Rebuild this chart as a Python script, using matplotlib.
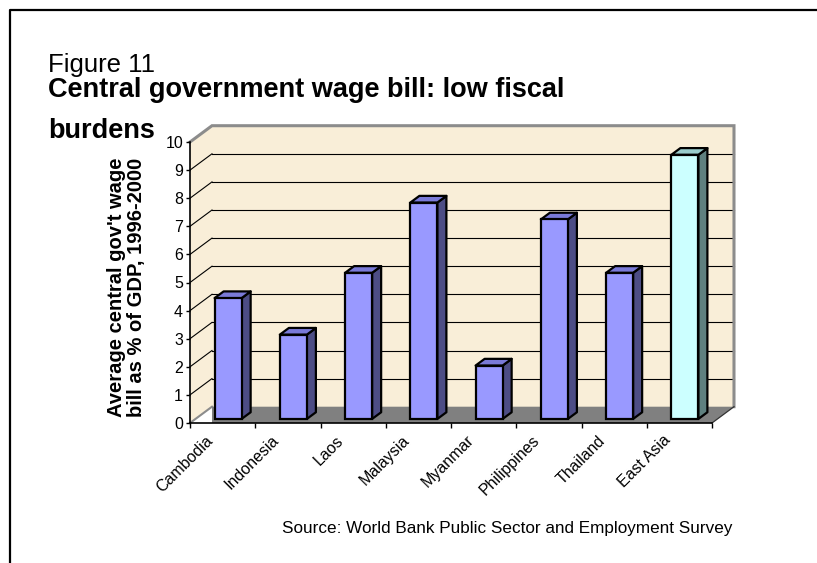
import matplotlib.pyplot as plt
from matplotlib.patches import Polygon
from matplotlib.transforms import ScaledTranslation
import numpy as np

plt.rcParams['font.family'] = ['Liberation Sans', 'DejaVu Sans']

# data
countries = ["Cambodia", "Indonesia", "Laos", "Malaysia", "Myanmar",
             "Philippines", "Thailand", "East Asia"]
wage_bill = [4.3, 3.0, 5.2, 7.7, 1.9, 7.1, 5.2, 9.4]
y_ticks = [0, 1, 2, 3, 4, 5, 6, 7, 8, 9, 10]

# colours (front, side, top) of the bars
front_cols = ["#9999FF"] * 7 + ["#CCFFFF"]
side_cols = ["#4D4D85"] * 7 + ["#5F807F"]
top_cols = ["#7A7AD8"] * 7 + ["#99CCCC"]

wall = "#F9EED8"
floor = "#808080"

# fake 3d depth, in data units
dx = 0.337
dy = 0.58
d0 = 0.25     # depth where the bars start
dd = 0.41     # thickness of the bars
w = 0.414     # bar width

fig = plt.figure(figsize=(8.17, 5.63), dpi=100)
ax = fig.add_axes([190 / 817, 140 / 563, 522 / 817, 281 / 563])
ax.set_xlim(0, len(countries))
ax.set_ylim(0, 10)
ax.set_facecolor("none")

# back wall
ax.add_patch(Polygon([(dx, dy), (8 + dx, dy), (8 + dx, 10 + dy), (dx, 10 + dy)],
                     closed=True, facecolor=wall, edgecolor="none", zorder=0.5,
                     clip_on=False))
# left wall
ax.add_patch(Polygon([(0, 0), (dx, dy), (dx, 10 + dy), (0, 10)], closed=True,
                     facecolor=wall, edgecolor="none", zorder=0.5, clip_on=False))

# grid lines on walls
for v in y_ticks[1:-1]:
    ax.plot([dx, 8 + dx], [v + dy, v + dy], color="black", lw=0.8, zorder=1,
            clip_on=False)
for v in y_ticks[1:-1]:
    ax.plot([0, dx], [v, v + dy], color="black", lw=0.8, zorder=1, clip_on=False)

# wall borders
ax.plot([0, dx, 8 + dx, 8 + dx], [10, 10 + dy, 10 + dy, dy], color="#8C8C8C",
        lw=2.2, zorder=1.2, clip_on=False, solid_joinstyle="miter")
ax.plot([0, dx], [0, dy], color="#8C8C8C", lw=1.5, zorder=1.2, clip_on=False)

# floor
ax.add_patch(Polygon([(dx, 0), (dx, dy), (8 + dx, dy), (8, 0)], closed=True,
                     facecolor=floor, edgecolor="none", zorder=1.5, clip_on=False))
ax.plot([8, 8 + dx], [0, dy], color="#333333", lw=0.9, zorder=1.6, clip_on=False)

# bars
x = np.arange(len(countries)) + 0.5 + d0 * dx
ax.bar(x, wage_bill, width=w, bottom=d0 * dy, color=front_cols,
       edgecolor="black", linewidth=1.6, zorder=3)
for i, v in enumerate(wage_bill):
    x0 = x[i] - w / 2
    x1 = x[i] + w / 2
    y0 = d0 * dy
    y1 = v + d0 * dy
    ax.add_patch(Polygon([(x1, y0), (x1 + dd * dx, y0 + dd * dy),
                          (x1 + dd * dx, y1 + dd * dy), (x1, y1)], closed=True,
                         facecolor=side_cols[i], edgecolor="black", lw=1.6,
                         zorder=2.9, joinstyle="round", clip_on=False))
    ax.add_patch(Polygon([(x0, y1), (x0 + dd * dx, y1 + dd * dy),
                          (x1 + dd * dx, y1 + dd * dy), (x1, y1)], closed=True,
                         facecolor=top_cols[i], edgecolor="black", lw=1.6,
                         zorder=2.9, joinstyle="round", clip_on=False))

# axes
for s in ["top", "right"]:
    ax.spines[s].set_visible(False)
ax.spines["left"].set_linewidth(1.2)
ax.spines["bottom"].set_linewidth(1.2)
ax.spines["left"].set_zorder(4)
ax.spines["bottom"].set_zorder(4)

ax.set_yticks(y_ticks)
ax.tick_params(axis="y", direction="out", length=3, width=1, labelsize=11.5, pad=2)
ax.set_xticks(np.arange(len(countries) + 1))
ax.set_xticklabels([])
ax.tick_params(axis="x", which="major", direction="out", length=3.5, width=1)
ax.set_xticks(np.arange(len(countries)) + 0.5, minor=True)
ax.set_xticklabels(countries, minor=True, rotation=45, ha="right",
                   rotation_mode="anchor", fontsize=11.5)
ax.tick_params(axis="x", which="minor", length=0, pad=7)
for lab in ax.get_xticklabels(minor=True):
    lab.set_transform(lab.get_transform() + ScaledTranslation(-0.17, 0, fig.dpi_scale_trans))

ax.set_ylabel("Average central gov't wage\nbill as % of GDP, 1996-2000",
              fontsize=14.5, fontweight="bold", linespacing=1.05)
ax.yaxis.set_label_coords(-0.084, 0.484)

# titles and source
fig.text(48 / 817, 1 - 72 / 563, "Figure 11", fontsize=18.5, va="baseline")
fig.text(48 / 817, 1 - 97 / 563, "Central government wage bill: low fiscal",
         fontsize=19.5, fontweight="bold", va="baseline")
fig.text(48 / 817, 1 - 138 / 563, "burdens", fontsize=19.5, fontweight="bold",
         va="baseline")
fig.text(282 / 817, 1 - 533 / 563,
         "Source: World Bank Public Sector and Employment Survey",
         fontsize=12.3, va="baseline")

# outer frame
fig.add_artist(plt.Line2D([10 / 817, 10 / 817, 1], [0, 1 - 10 / 563, 1 - 10 / 563],
                          transform=fig.transFigure, color="black", lw=1.6))

fig.savefig("out.png", dpi=100)
